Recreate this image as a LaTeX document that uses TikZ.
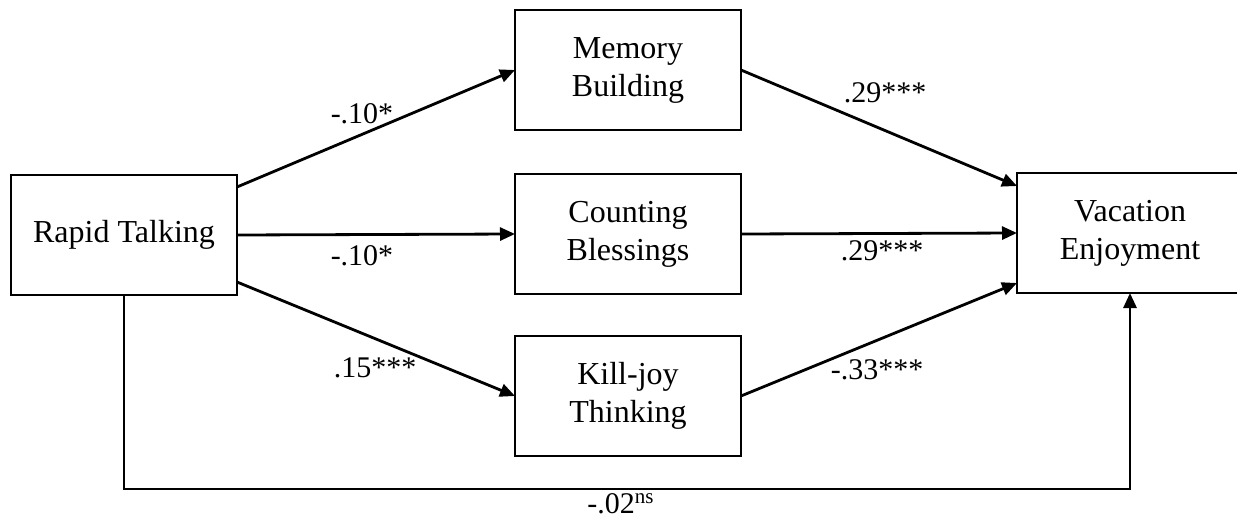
\documentclass[tikz,border=0pt]{standalone}
\usepackage{fontspec}
\setmainfont{Liberation Serif}
\usetikzlibrary{arrows.meta}

\tikzset{
  varbox/.style={draw, line width=0.75pt, minimum width=113pt, minimum height=60pt,
    inner sep=0pt, outer sep=0pt, align=center, font=\fontsize{16}{19}\selectfont},
  pathline/.style={line width=1.4pt, -{Triangle[length=7.5pt,width=6.5pt]}},
  coef/.style={inner sep=0pt, font=\fontsize{15}{17}\selectfont}
}

\begin{document}
\begin{tikzpicture}[x=0.5pt,y=-0.5pt]
					\useasboundingbox (0,0) rectangle (1237,520);
					\clip (0,0) rectangle (1237,520);
					
					% variables
					\node[varbox] (rt) at (124,235) {Rapid Talking};
					\node[varbox] (mb) at (628,70) {Memory\\Building};
					\node[varbox] (cb) at (628,234) {Counting\\Blessings};
					\node[varbox] (kt) at (628,396) {Kill-joy\\Thinking};
					\node[varbox] (ve) at (1130,233) {Vacation\\Enjoyment};
					
					% paths
					\draw[pathline] ([yshift=24pt]rt.east) -- (mb.west);
					\draw[pathline] (rt.east) -- (cb.west);
					\draw[pathline] ([yshift=-23.5pt]rt.east) -- (kt.west);
					\draw[pathline] (mb.east) -- ([yshift=23.5pt]ve.west);
					\draw[pathline] (cb.east) -- (ve.west);
					\draw[pathline] (kt.east) -- ([yshift=-25pt]ve.west);
					
					\coordinate (low) at (0,489);
					\draw[pathline] (rt.south) -- (rt.south |- low) -| (ve.south);
					
					% coefficients
					\node[coef] (a1) at (362,114) {-.10*};
					\node[coef] (a2) at (362,256) {-.10*};
					\node[coef] (a3) at (375,368) {.15***};
					\node[coef] (b1) at (885,93) {.29***};
					\node[coef] (b2) at (882,251) {.29***};
					\node[coef] (b3) at (877,370) {-.33***};
					\node[coef] (c) at (621,504) {-.02\textsuperscript{ns}};
				\end{tikzpicture}
\end{document}
